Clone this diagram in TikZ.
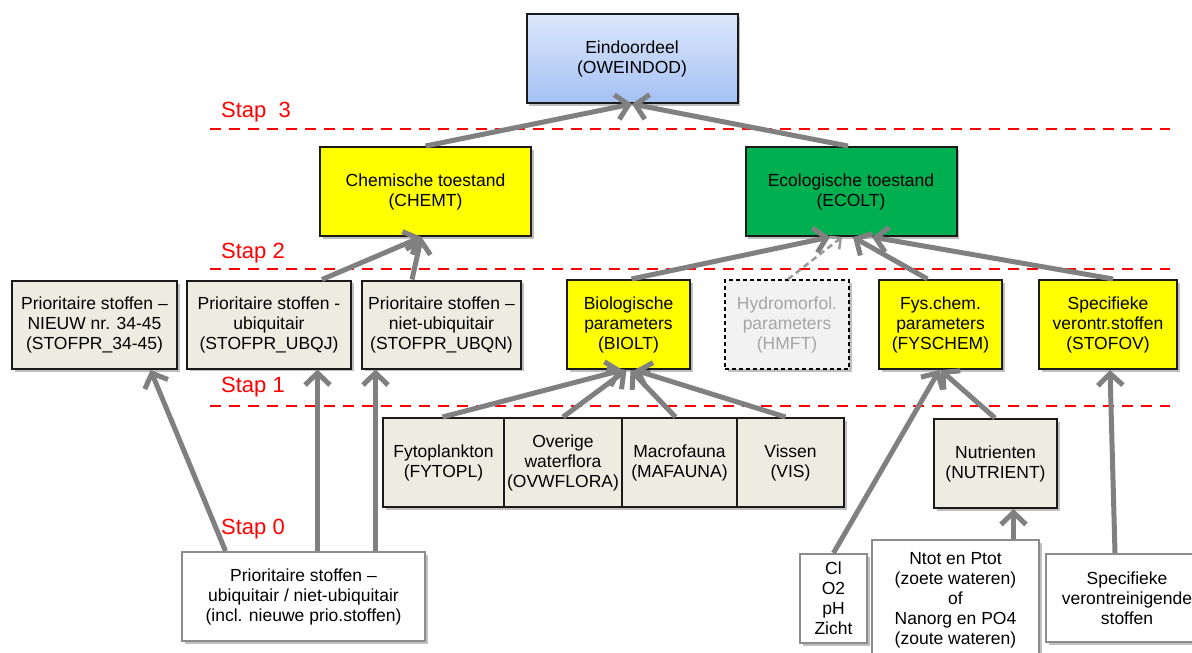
\documentclass[tikz,border=0pt]{standalone}
\usepackage{fontspec}
\setmainfont{Liberation Sans}
\usetikzlibrary{arrows.meta,shadows}
\definecolor{beige}{HTML}{EEECE1}
\definecolor{yel}{HTML}{FFFF00}
\definecolor{grn}{HTML}{00B050}
\definecolor{hmfill}{HTML}{F2F2F2}
\definecolor{hmtext}{HTML}{A6A6A6}
\definecolor{arrgray}{HTML}{808080}
\definecolor{bordgray}{HTML}{8C8C8C}
\definecolor{boxline}{HTML}{1A1A1A}
\definecolor{bluetop}{HTML}{DDE7FB}
\definecolor{bluebot}{HTML}{A4C1F4}
\begin{document}
\begin{tikzpicture}[x=1pt,y=-1pt,
  txt/.style={align=center,font=\fontsize{17.5}{20}\selectfont,inner sep=0pt},
  shad/.style={drop shadow={shadow xshift=2.5pt,shadow yshift=-2.5pt,opacity=0.25,fill=black}},
  mainbox/.style={txt,draw=boxline,line width=2pt,shad},
  beigebox/.style={mainbox,fill=beige},
  yelbox/.style={mainbox,fill=yel},
  srcbox/.style={txt,draw=bordgray,line width=2pt,fill=white,shad},
  staplabel/.style={anchor=base west,text=red,font=\fontsize{22}{26}\selectfont,inner sep=0pt},
  reddash/.style={draw=red,line width=2pt,dash pattern=on 11pt off 8pt},
  arr/.style={draw=arrgray,line width=5pt,-{Straight Barb[length=12pt,width=25pt]}},
  darr/.style={draw=arrgray!80,line width=2.5pt,dash pattern=on 6pt off 4pt,-{Straight Barb[length=8pt,width=16pt]}}
]
\useasboundingbox (0,0) rectangle (1192,653);
\fill[white] (0,0) rectangle (1192,653);

% separator lines
\coordinate (l3a) at (210,129); \coordinate (l3b) at (1170,129);
\coordinate (l2a) at (210,269); \coordinate (l2b) at (1170,269);
\coordinate (l1a) at (210,406); \coordinate (l1b) at (1170,406);
\draw[reddash] (l3a) -- (l3b);
\draw[reddash] (l2a) -- (l2b);
\draw[reddash] (l1a) -- (l1b);

% stap labels
\node[staplabel] (s3) at (221,117) {Stap~~3};
\node[staplabel] (s2) at (221,258) {Stap 2};
\node[staplabel] (s1) at (221,392) {Stap 1};
\node[staplabel] (s0) at (221,534) {Stap 0};

% top
\node[mainbox,top color=bluetop,bottom color=bluebot,minimum width=211pt,minimum height=89pt] (ein) at (632,58.5) {Eindoordeel\\(OWEINDOD)};

% level 2
\node[yelbox,minimum width=211pt,minimum height=89pt] (chem) at (425.5,191.5) {Chemische toestand\\(CHEMT)};
\node[mainbox,fill=grn,minimum width=211pt,minimum height=89pt] (ecol) at (851,191.5) {Ecologische toestand\\(ECOLT)};

% level 1
\node[beigebox,minimum width=165pt,minimum height=88pt] (nieuw) at (94.5,325) {Prioritaire stoffen –\\NIEUW nr. 34-45\\(STOFPR\_34-45)};
\node[beigebox,minimum width=164pt,minimum height=88pt] (ubqj) at (269,324.5) {Prioritaire stoffen -\\ubiquitair\\(STOFPR\_UBQJ)};
\node[beigebox,minimum width=159pt,minimum height=88pt] (ubqn) at (441.5,324.5) {Prioritaire stoffen –\\niet-ubiquitair\\(STOFPR\_UBQN)};
\node[yelbox,minimum width=123pt,minimum height=89pt] (bio) at (628.5,324.5) {Biologische\\parameters\\(BIOLT)};
\node[txt,draw=black,line width=1.5pt,dash pattern=on 4pt off 3pt,fill=hmfill,text=hmtext,shad,minimum width=124pt,minimum height=89pt] (hmft) at (787,324.5) {Hydromorfol.\\parameters\\(HMFT)};
\node[yelbox,minimum width=123pt,minimum height=89pt] (fys) at (940.5,324.5) {Fys.chem.\\parameters\\(FYSCHEM)};
\node[yelbox,minimum width=138pt,minimum height=89pt] (stofov) at (1108,324.5) {Specifieke\\verontr.stoffen\\(STOFOV)};

% organism row
\node[beigebox,minimum width=121pt,minimum height=89pt] (fyto) at (443.5,462.5) {Fytoplankton\\(FYTOPL)};
\node[beigebox,minimum width=118pt,minimum height=89pt] (ovw) at (563,462.5) {Overige\\waterflora\\(OVWFLORA)};
\node[beigebox,minimum width=115pt,minimum height=89pt] (mafa) at (679.5,462.5) {Macrofauna\\(MAFAUNA)};
\node[beigebox,minimum width=107pt,minimum height=89pt] (vis) at (790.5,462.5) {Vissen\\(VIS)};
\node[beigebox,minimum width=123pt,minimum height=89pt] (nutr) at (995.5,463.5) {Nutrienten\\(NUTRIENT)};

% source boxes
\node[srcbox,minimum width=243pt,minimum height=89pt] (prio0) at (303.5,596.5) {Prioritaire stoffen –\\ubiquitair / niet-ubiquitair\\(incl. nieuwe prio.stoffen)};
\node[srcbox,minimum width=67pt,minimum height=89pt] (cl) at (833.5,598.5) {Cl\\O2\\pH\\Zicht};
\node[srcbox,minimum width=167pt,minimum height=120pt] (ntot) at (955.5,600) {Ntot en Ptot\\(zoete wateren)\\of\\Nanorg en PO4\\(zoute wateren)};
\node[srcbox,minimum width=162pt,minimum height=88pt] (specv) at (1127,598) {Specifieke\\verontreinigende\\stoffen};

% connectors
\draw[arr] (chem.north) -- (ein.south);
\draw[arr] ([xshift=-3pt]ecol.north) -- (ein.south);
\draw[arr] ([xshift=53pt]ubqj.north) -- ([xshift=-4pt]chem.south);
\draw[arr] ([xshift=-29.5pt]ubqn.north) -- ([xshift=-4pt]chem.south);
\draw[arr] ([xshift=3pt]bio.north) -- ([xshift=-21pt]ecol.south);
\draw[darr] ([xshift=1pt]hmft.north) -- ([xshift=-9pt]ecol.south);
\draw[arr] ([xshift=-13pt]fys.north) -- ([xshift=2pt]ecol.south);
\draw[arr] ([xshift=5pt]stofov.north) -- ([xshift=21pt]ecol.south);
\draw[arr] ([xshift=-1pt]fyto.north) -- ([xshift=-6pt]bio.south);
\draw[arr] (ovw.north) -- ([xshift=-2pt]bio.south);
\draw[arr] ([xshift=-4pt]mafa.north) -- ([xshift=2pt]bio.south);
\draw[arr] ([xshift=-5pt]vis.north) -- ([xshift=6pt]bio.south);
\draw[arr] (cl.north) -- ([xshift=-1pt]fys.south);
\draw[arr] ([xshift=-0.5pt]nutr.north) -- ([xshift=0pt]fys.south);
\draw[arr] ([xshift=58pt]ntot.north) -- ([xshift=18pt]nutr.south);
\draw[arr] ([xshift=-12pt]specv.north) -- ([xshift=2pt]stofov.south);
\draw[arr] ([xshift=-78pt]prio0.north) -- ([xshift=56pt]nieuw.south);
\draw[arr] ([xshift=14pt]prio0.north) -- ([xshift=48.5pt]ubqj.south);
\draw[arr] ([xshift=72pt]prio0.north) -- ([xshift=-66pt]ubqn.south);
\end{tikzpicture}
\end{document}
